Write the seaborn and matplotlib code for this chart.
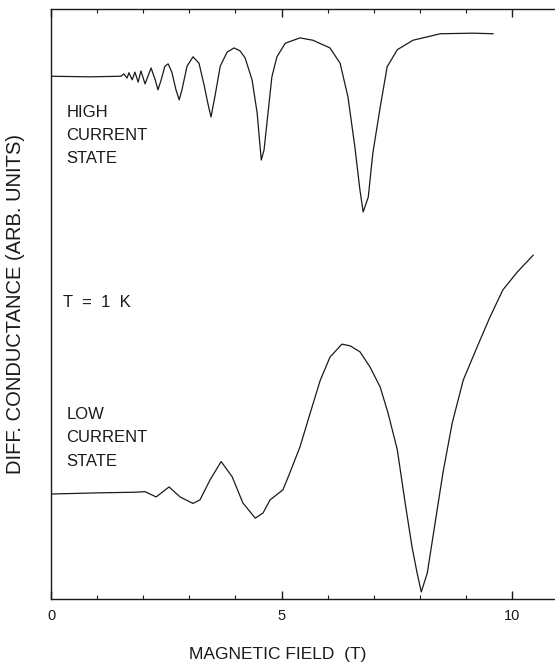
import numpy as np
import pandas as pd
import matplotlib
matplotlib.use("Agg")
import matplotlib.pyplot as plt
import seaborn as sns
from matplotlib.ticker import MultipleLocator

# magnetic field (T) and conductance (arb. units)
high_field = [0.00, 0.85, 1.52, 1.58, 1.65, 1.69, 1.76, 1.82, 1.89, 1.95, 2.04,
              2.17, 2.26, 2.32, 2.39, 2.47, 2.54, 2.62, 2.71, 2.78, 2.84, 2.95,
              3.08, 3.21, 3.32, 3.41, 3.47, 3.56, 3.67, 3.82, 3.97, 4.10, 4.21,
              4.36, 4.47, 4.56, 4.62, 4.69, 4.79, 4.90, 5.08, 5.40, 5.68, 6.05,
              6.27, 6.44, 6.59, 6.70, 6.77, 6.88, 6.98, 7.14, 7.29, 7.51, 7.85,
              8.44, 9.15, 9.59]
high_cond = [8.86, 8.85, 8.86, 8.90, 8.83, 8.92, 8.80, 8.93, 8.76, 8.95, 8.73,
             9.00, 8.80, 8.63, 8.80, 9.03, 9.07, 8.93, 8.63, 8.46, 8.63, 9.03,
             9.19, 9.08, 8.71, 8.37, 8.17, 8.54, 9.03, 9.27, 9.34, 9.29, 9.17,
             8.80, 8.24, 7.44, 7.61, 8.12, 8.85, 9.19, 9.42, 9.51, 9.47, 9.34,
             9.08, 8.51, 7.66, 6.93, 6.56, 6.81, 7.56, 8.34, 9.02, 9.31, 9.47,
             9.58, 9.59, 9.58]

low_field = [0.00, 1.06, 1.82, 2.04, 2.28, 2.56, 2.80, 3.08, 3.23, 3.45, 3.69,
             3.93, 4.16, 4.43, 4.60, 4.75, 5.03, 5.18, 5.40, 5.62, 5.84, 6.05,
             6.31, 6.49, 6.70, 6.92, 7.14, 7.31, 7.51, 7.68, 7.83, 7.94, 8.03,
             8.16, 8.33, 8.50, 8.70, 8.94, 9.24, 9.52, 9.80, 10.11, 10.46]
low_cond = [1.78, 1.80, 1.81, 1.82, 1.73, 1.90, 1.73, 1.62, 1.68, 2.02, 2.33,
            2.07, 1.63, 1.37, 1.46, 1.68, 1.85, 2.14, 2.58, 3.15, 3.71, 4.10,
            4.32, 4.29, 4.19, 3.93, 3.59, 3.15, 2.53, 1.63, 0.88, 0.44, 0.12,
            0.44, 1.29, 2.14, 2.98, 3.71, 4.27, 4.78, 5.24, 5.54, 5.83]

x_ticks = [0, 5, 10]

sns.set_theme(style="ticks")
plt.rcParams["font.family"] = ["Liberation Sans", "DejaVu Sans"]
ink = "#1a1a1a"

fig = plt.figure(figsize=(5.55, 6.65), dpi=100)
ax = fig.add_axes([0.0919, 0.0992, 0.9081, 0.8873])

high = pd.DataFrame({"field": high_field, "cond": high_cond})
low = pd.DataFrame({"field": low_field, "cond": low_cond})
sns.lineplot(data=high, x="field", y="cond", color=ink, lw=0.9,
             sort=False, estimator=None, ax=ax)
sns.lineplot(data=low, x="field", y="cond", color=ink, lw=0.9,
             sort=False, estimator=None, ax=ax)

ax.set_xlim(0, 10.93)
ax.set_ylim(0, 10)
ax.set_xticks(x_ticks)
ax.set_xticklabels([str(t) for t in x_ticks])
ax.xaxis.set_minor_locator(MultipleLocator(1))
ax.set_yticks([])
ax.tick_params(axis="x", which="major", direction="in", length=6, width=1,
               top=True, labelsize=10.5, pad=7, colors=ink)
ax.tick_params(axis="x", which="minor", direction="in", length=3, width=0.8,
               top=True, colors=ink)
for side in ["left", "top", "bottom"]:
    ax.spines[side].set_color(ink)
    ax.spines[side].set_linewidth(1.0)
ax.spines["right"].set_visible(False)

ax.set_xlabel("MAGNETIC FIELD  (T)", fontsize=12.5, color=ink)
ax.xaxis.set_label_coords(0.45, -0.081)
ax.set_ylabel("DIFF. CONDUCTANCE (ARB. UNITS)", fontsize=14.5, color=ink)
ax.yaxis.set_label_coords(-0.052, 0.5)

ax.text(0.33, 7.86, "HIGH\nCURRENT\nSTATE", fontsize=12, va="center",
        ha="left", linespacing=1.68, color=ink)
ax.text(0.26, 5.03, "T  =  1  K", fontsize=12, va="center", ha="left",
        color=ink)
ax.text(0.33, 2.73, "LOW\nCURRENT\nSTATE", fontsize=12, va="center",
        ha="left", linespacing=1.68, color=ink)

fig.savefig("out.png", dpi=100)
